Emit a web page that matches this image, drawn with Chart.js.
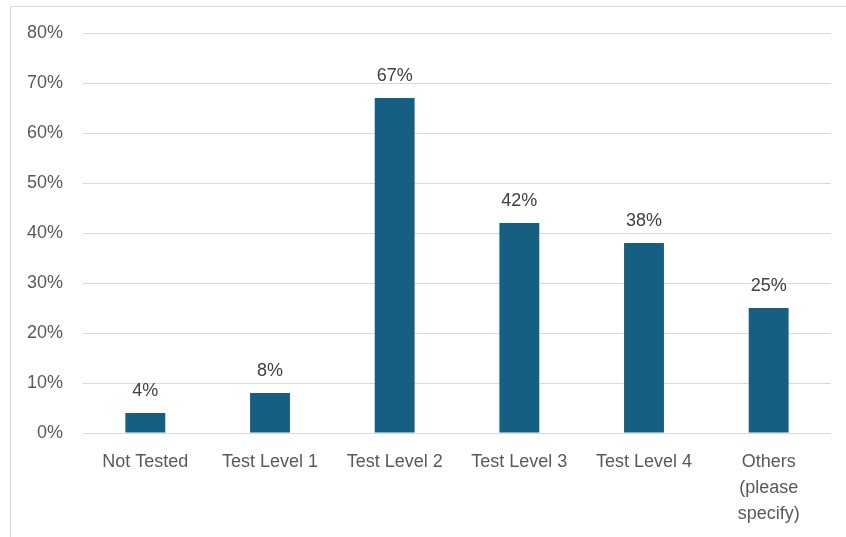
<!DOCTYPE html>
<html>
<head>
<meta charset="utf-8">
<script src="https://cdn.jsdelivr.net/npm/chart.js@4"></script>
<style>
  html, body { margin: 0; padding: 0; background: #fff; overflow: hidden; }
  #frame { position: absolute; left: 10px; top: 6px; width: 900px; height: 600px; border: 1px solid #d9d9d9; }
  #wrap { position: absolute; left: 0; top: 0; width: 846px; height: 537px; }
</style>
</head>
<body>
<div id="frame"></div>
<div id="wrap"><canvas id="myChart"></canvas></div>
<script>
const categories = ["Not Tested", "Test Level 1", "Test Level 2", "Test Level 3", "Test Level 4", ["Others", "(please", "specify)"]];
const values = [4, 8, 67, 42, 38, 25];
const yTicks = [0, 10, 20, 30, 40, 50, 60, 70, 80];

const fontFamily = "'Liberation Sans', Arial, sans-serif";

// simple value labels above each bar
const barLabels = {
  id: "barLabels",
  afterDatasetsDraw(chart) {
    const ctx = chart.ctx;
    const meta = chart.getDatasetMeta(0);
    ctx.save();
    ctx.font = "18px " + fontFamily;
    ctx.fillStyle = "#404040";
    ctx.textAlign = "center";
    ctx.textBaseline = "middle";
    meta.data.forEach(function (bar, i) {
      ctx.fillText(values[i] + "%", bar.x, bar.y - 22);
    });
    ctx.restore();
  }
};

const ctx = document.getElementById("myChart");

const myChart = new Chart(ctx, {
  type: "bar",
  data: {
    labels: categories,
    datasets: [
      {
        data: values,
        backgroundColor: "#156082",
        borderWidth: 0,
        barPercentage: 0.8,
        categoryPercentage: 0.4
      }
    ]
  },
  options: {
    responsive: true,
    maintainAspectRatio: false,
    animation: false,
    layout: { padding: { top: 33, right: 15, left: 0, bottom: 0 } },
    plugins: {
      legend: { display: false },
      tooltip: { enabled: false }
    },
    scales: {
      x: {
        grid: { display: false },
        border: { display: false },
        ticks: {
          color: "#595959",
          font: { family: fontFamily, size: 18, lineHeight: 1.45 },
          padding: 8,
          maxRotation: 0,
          autoSkip: false
        },
        afterFit(scale) { scale.height = 104; }
      },
      y: {
        min: 0,
        max: 80,
        afterBuildTicks(scale) { scale.ticks = yTicks.map(v => ({ value: v })); },
        grid: { color: "#d9d9d9", lineWidth: 1, drawTicks: false },
        border: { display: false },
        ticks: {
          color: "#595959",
          font: { family: fontFamily, size: 18 },
          padding: 20,
          callback: v => v + "%"
        },
        afterFit(scale) { scale.width = 83; }
      }
    }
  },
  plugins: [barLabels]
});
</script>
</body>
</html>
